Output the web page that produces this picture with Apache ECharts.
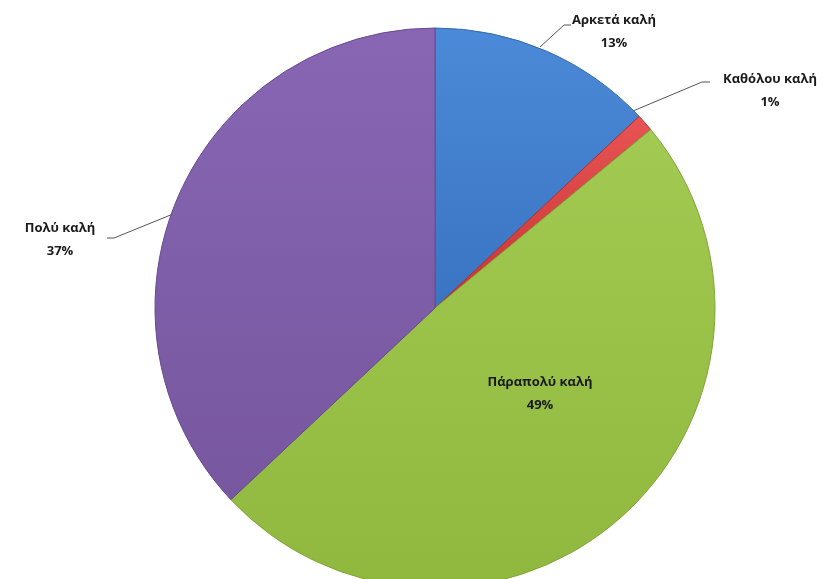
<!DOCTYPE html>
<html><head><meta charset="utf-8">
<script src="https://cdn.jsdelivr.net/npm/echarts@6/dist/echarts.min.js"></script>
<style>html,body{margin:0;padding:0;background:#fff}#c{width:829px;height:579px}</style>
</head><body><div id="c"></div>
<script>
const categories = ['Αρκετά καλή', 'Καθόλου καλή', 'Πάραπολύ καλή', 'Πολύ καλή'];
const values = [13, 1, 49, 37];
const colors = [['#4b8ad8','#3a74c2'], ['#e85454','#c83434'], ['#a2ca52','#90b83e'], ['#8866b4','#77579f']];
const borders = ['#3569ad', '#a83030', '#7fa338', '#654a8c'];
const labelPos = [
  {x: 614, y: 32, line: [[540, 47], [564, 25], [571, 25]]},
  {x: 770, y: 91, line: [[633, 111], [702, 82], [710, 82]]},
  {x: 540, y: 394, line: null},
  {x: 60, y: 240, line: [[178, 212], [114, 238], [107, 238]]}
];
const chart = echarts.init(document.getElementById('c'));
chart.setOption({
  animation: false,
  series: [{
    type: 'pie',
    center: [435, 308],
    radius: 280,
    startAngle: 90,
    clockwise: true,
    data: categories.map((n, i) => ({
      name: n, value: values[i],
      itemStyle: {
        color: new echarts.graphic.LinearGradient(0, 0, 0, 1, [{offset: 0, color: colors[i][0]}, {offset: 1, color: colors[i][1]}]),
        borderColor: borders[i], borderWidth: 1
      },
      label: {position: i === 2 ? 'inside' : 'outside'},
      labelLine: {show: i !== 2}
    })),
    label: {
      formatter: '{b}\n{c}%',
      color: '#1a1a1a',
      fontFamily: 'Open Sans',
      fontWeight: 'bold',
      fontSize: 13,
      lineHeight: 23,
      align: 'center'
    },
    labelLine: {lineStyle: {color: '#555', width: 1}},
    labelLayout: function (p) {
      const lp = labelPos[p.dataIndex];
      const o = {x: lp.x, y: lp.y, align: 'center', verticalAlign: 'middle'};
      if (lp.line) o.labelLinePoints = lp.line;
      return o;
    }
  }]
});
</script></body></html>
